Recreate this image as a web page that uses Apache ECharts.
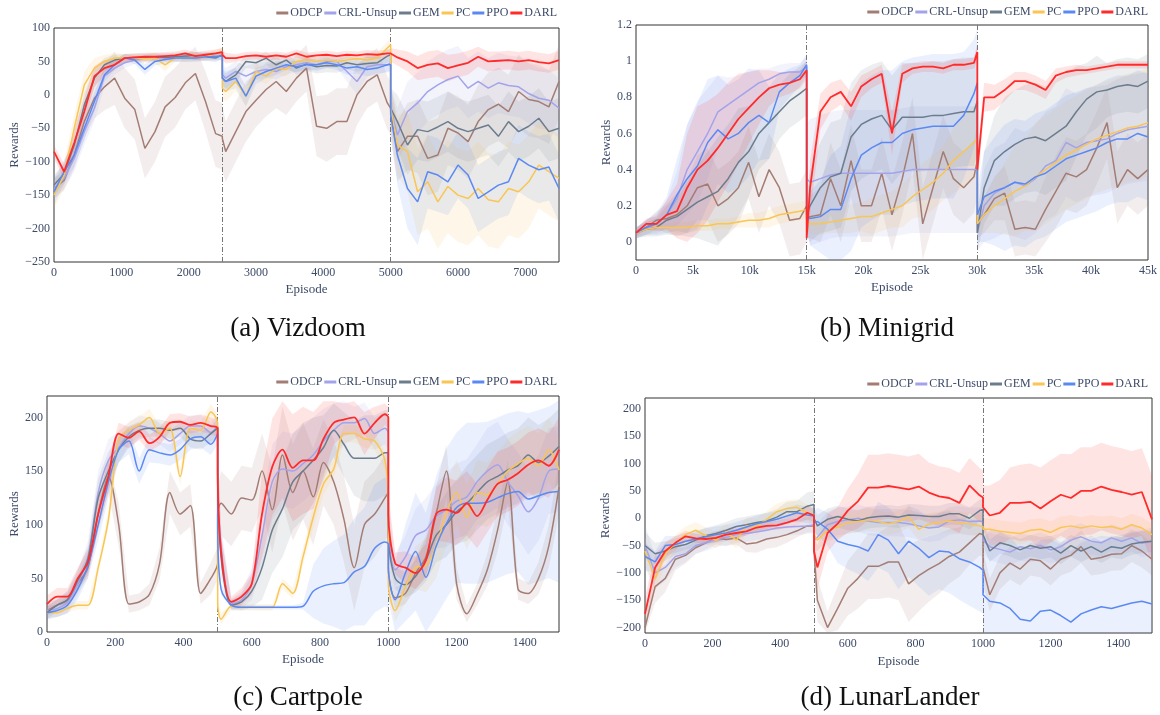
<!DOCTYPE html>
<html>
<head>
<meta charset="utf-8">
<script src="https://cdn.jsdelivr.net/npm/echarts@6.0.0/dist/echarts.min.js"></script>
<style>
  html, body { margin: 0; padding: 0; background: #fff; }
  #main { width: 1160px; height: 715px; }
</style>
</head>
<body>
<div id="main"></div>
<script>
// ---- episodes (task switches appear twice: value before / after the switch) ----
const EP_A = [0,150,300,450,600,750,900,1050,1200,1350,1500,1650,1800,1950,2100,2250,2400,2500,2500,2550,2700,2850,3000,3150,3300,3450,3600,3750,3900,4050,4200,4350,4500,4650,4800,4950,5000,5000,5100,5250,5400,5550,5700,5850,6000,6150,6300,6450,6600,6750,6900,7050,7200,7350,7500];
const EP_B = [0,900,1800,2700,3600,4500,5400,6300,7200,8100,9000,9900,10800,11700,12600,13500,14400,15000,15000,15300,16200,17100,18000,18900,19800,20700,21600,22500,23400,24300,25200,26100,27000,27900,28800,29700,30000,30000,30600,31500,32400,33300,34200,35100,36000,36900,37800,38700,39600,40500,41400,42300,43200,44100,45000];
const EP_C = [0,30,60,90,120,150,180,210,240,270,300,330,360,390,420,450,480,500,500,510,540,570,600,630,660,690,720,750,780,810,840,870,900,930,960,990,1000,1000,1020,1050,1080,1110,1140,1170,1200,1230,1260,1290,1320,1350,1380,1410,1440,1470,1500];
const EP_D = EP_C;

const SWITCH_A = [2500, 5000];
const SWITCH_B = [15000, 30000];
const SWITCH_C = [500, 1000];
const SWITCH_D = [500, 1000];

const METHODS = ['ODCP', 'CRL-Unsup', 'GEM', 'PC', 'PPO', 'DARL'];

// ---- (a) Vizdoom ----
const VIZ_ODCP = [-140,-128,-90,-40,-5,12,25,-5,-22,-80,-55,-18,-4,18,32,-10,-58, -62,-65,-85, -55,-25,-8,8,20,5,25,40,-47,-50,-40,-40,0,20,30,-12, -20,-25,-85, -62,-62,-95,-90,-50,-57,-70,-40,-22,-14,-25,5,-7,-10,-18,20];
const VIZ_ODCP_SD = [15,15,20,25,30,35,40,45,45,45,45,45,45,40,40,45,50, 50,50,45, 45,45,40,40,40,35,35,35,45,50,50,50,45,40,40,40, 40,40,45, 50,55,55,55,55,55,55,55,55,55,55,55,55,55,55,55];
const VIZ_CRL = [-140,-125,-95,-55,-20,28,40,48,52,55,55,56,55,57,57,58,58, 58,30,25, 35,28,35,38,35,42,45,48,45,50,50,35,20,42,45,45, 48,-20,-60, -25,-12,5,15,23,28,10,20,10,18,14,12,2,-5,-8,-20];
const VIZ_CRL_SD = [15,15,20,20,20,15,10,8,6,6,6,6,6,6,6,6,6, 6,15,15, 15,15,12,12,12,12,10,10,10,10,10,15,20,15,12,12, 12,30,40, 45,45,45,45,45,45,45,45,45,45,45,45,45,45,45,45];
const VIZ_GEM = [-135,-118,-75,-15,25,45,52,55,56,56,57,56,57,58,58,57,55, 60,25,20, 30,50,48,55,45,52,40,46,42,44,43,48,45,47,48,58, 60,-20,-40, -75,-52,-55,-48,-40,-50,-55,-50,-45,-62,-40,-55,-47,-35,-55,-50];
const VIZ_GEM_SD = [15,15,18,18,15,10,8,6,6,6,6,6,6,6,6,6,6, 6,12,12, 12,10,10,10,10,10,10,10,10,10,10,10,10,10,10,10, 10,30,40, 45,45,45,45,45,45,45,45,45,45,45,45,45,45,45,45];
const VIZ_PC = [-150,-120,-50,15,40,50,55,55,55,54,55,45,55,55,57,57,62, 65,10,5, 20,-2,35,28,40,38,50,52,50,52,50,52,54,52,55,70, 75,-20,-75, -85,-145,-130,-160,-137,-150,-155,-140,-157,-160,-140,-145,-130,-105,-115,-125];
const VIZ_PC_SD = [20,20,20,20,15,10,8,6,6,6,8,10,6,6,6,6,6, 6,15,15, 15,15,12,12,10,10,8,8,8,8,8,8,8,8,8,10, 10,30,45, 60,65,70,70,70,70,70,70,70,70,70,70,70,65,65,65];
const VIZ_PPO = [-145,-115,-90,-50,-10,30,45,55,52,38,50,53,55,55,55,57,57, 58,25,20, 25,-2,28,35,40,45,42,45,45,48,45,40,42,38,40,45, 45,-30,-90, -140,-160,-115,-120,-130,-105,-120,-155,-145,-135,-130,-95,-105,-112,-108,-140];
const VIZ_PPO_SD = [20,18,18,18,15,10,8,6,6,8,6,6,6,6,6,6,6, 6,15,15, 15,15,12,10,10,8,8,8,8,8,8,10,10,10,10,10, 10,30,45, 60,65,55,55,50,50,50,50,50,50,50,50,50,50,50,50];
const VIZ_DARL = [-85,-115,-72,-25,28,40,45,55,56,57,57,58,59,62,58,60,62, 64,60,55, 55,58,59,57,59,57,62,57,59,60,58,60,59,61,60,62, 62,60,56, 50,40,45,47,40,44,48,57,50,51,52,50,52,49,47,52];
const VIZ_DARL_SD = [10,12,20,20,15,12,8,6,6,6,6,6,6,6,6,6,6, 6,8,8, 6,6,6,6,6,6,6,6,6,6,6,6,6,6,6,6, 6,10,12, 15,18,20,20,20,18,18,15,15,14,14,14,14,14,14,14];

// ---- (b) Minigrid ----
const MG_ODCP = [0.05,0.08,0.12,0.13,0.15,0.2,0.3,0.32,0.2,0.24,0.3,0.44,0.25,0.4,0.3,0.12,0.13, 0.2,0.12, 0.14,0.15,0.35,0.2,0.45,0.2,0.2,0.38,0.15,0.35,0.6,0.1,0.3,0.5,0.35,0.3,0.36, 0.45,0.1, 0.15,0.24,0.27,0.07,0.08,0.07,0.18,0.28,0.38,0.36,0.4,0.52,0.66,0.3,0.4,0.35,0.4];
const MG_ODCP_SD = [0.03,0.04,0.05,0.08,0.12,0.15,0.18,0.2,0.2,0.2,0.2,0.2,0.2,0.2,0.2,0.2,0.2, 0.2,0.1, 0.12,0.15,0.2,0.2,0.2,0.2,0.2,0.2,0.2,0.2,0.2,0.2,0.2,0.2,0.2,0.2,0.2, 0.2,0.08, 0.1,0.12,0.15,0.15,0.15,0.15,0.18,0.2,0.2,0.2,0.2,0.2,0.2,0.2,0.2,0.2,0.2];
const MG_CRL = [0.05,0.08,0.1,0.15,0.24,0.4,0.5,0.6,0.72,0.76,0.8,0.84,0.88,0.9,0.93,0.94,0.94, 0.97,0.35, 0.33,0.35,0.37,0.38,0.38,0.38,0.38,0.38,0.38,0.39,0.4,0.4,0.4,0.4,0.4,0.4,0.4, 0.4,0.05, 0.2,0.27,0.3,0.33,0.31,0.35,0.42,0.45,0.55,0.52,0.55,0.56,0.57,0.6,0.62,0.63,0.64];
const MG_CRL_SD = [0.03,0.04,0.05,0.08,0.15,0.25,0.28,0.25,0.2,0.15,0.12,0.1,0.08,0.06,0.05,0.05,0.05, 0.05,0.3, 0.35,0.35,0.35,0.35,0.35,0.35,0.35,0.35,0.35,0.35,0.35,0.35,0.35,0.35,0.35,0.35,0.35, 0.35,0.1, 0.2,0.25,0.25,0.3,0.3,0.3,0.3,0.3,0.3,0.3,0.3,0.3,0.3,0.3,0.3,0.3,0.3];
const MG_GEM = [0.05,0.07,0.08,0.12,0.14,0.18,0.22,0.25,0.28,0.35,0.44,0.5,0.6,0.66,0.72,0.78,0.82, 0.85,0.15, 0.2,0.3,0.36,0.38,0.58,0.65,0.68,0.7,0.62,0.69,0.69,0.69,0.7,0.7,0.71,0.72,0.72, 0.78,0.05, 0.3,0.45,0.5,0.54,0.57,0.58,0.56,0.6,0.64,0.72,0.79,0.83,0.84,0.86,0.87,0.86,0.89];
const MG_GEM_SD = [0.03,0.04,0.05,0.08,0.1,0.15,0.2,0.25,0.3,0.3,0.3,0.25,0.2,0.2,0.15,0.15,0.15, 0.15,0.1, 0.2,0.25,0.3,0.3,0.3,0.3,0.3,0.3,0.3,0.3,0.3,0.3,0.3,0.3,0.3,0.3,0.3, 0.3,0.1, 0.2,0.25,0.3,0.3,0.3,0.3,0.3,0.3,0.3,0.25,0.2,0.2,0.15,0.15,0.15,0.15,0.15];
const MG_PC = [0.05,0.07,0.08,0.08,0.08,0.08,0.09,0.09,0.1,0.1,0.11,0.12,0.12,0.13,0.15,0.16,0.17, 0.18,0.1, 0.1,0.1,0.11,0.12,0.13,0.14,0.14,0.16,0.18,0.2,0.25,0.29,0.33,0.38,0.45,0.5,0.55, 0.57,0.1, 0.15,0.2,0.24,0.28,0.31,0.36,0.4,0.44,0.48,0.51,0.54,0.57,0.59,0.61,0.63,0.64,0.66];
const MG_PC_SD = [0.02,0.02,0.02,0.02,0.03,0.03,0.03,0.03,0.03,0.03,0.03,0.04,0.04,0.05,0.05,0.05,0.05, 0.05,0.05, 0.05,0.06,0.06,0.07,0.08,0.08,0.1,0.1,0.1,0.12,0.12,0.15,0.15,0.15,0.18,0.2,0.2, 0.2,0.05, 0.1,0.15,0.2,0.25,0.25,0.3,0.3,0.3,0.3,0.3,0.3,0.3,0.3,0.3,0.3,0.3,0.3];
const MG_PPO = [0.05,0.08,0.1,0.15,0.26,0.35,0.42,0.55,0.62,0.57,0.6,0.66,0.7,0.66,0.83,0.88,0.92, 0.98,0.15, 0.13,0.14,0.18,0.18,0.35,0.48,0.52,0.55,0.55,0.6,0.62,0.63,0.64,0.64,0.64,0.7,0.82, 0.88,0.15, 0.25,0.28,0.3,0.33,0.32,0.36,0.38,0.42,0.46,0.48,0.5,0.52,0.55,0.57,0.57,0.6,0.58];
const MG_PPO_SD = [0.03,0.04,0.06,0.1,0.2,0.3,0.35,0.35,0.3,0.3,0.3,0.3,0.25,0.2,0.1,0.08,0.06, 0.06,0.1, 0.15,0.2,0.3,0.35,0.4,0.4,0.4,0.4,0.4,0.4,0.4,0.4,0.4,0.4,0.4,0.35,0.3, 0.3,0.15, 0.25,0.3,0.35,0.35,0.35,0.35,0.35,0.35,0.35,0.35,0.35,0.35,0.35,0.35,0.35,0.35,0.35];
const MG_DARL = [0.05,0.1,0.1,0.15,0.17,0.3,0.4,0.45,0.52,0.6,0.68,0.74,0.8,0.85,0.87,0.88,0.9, 0.95,0.02, 0.3,0.72,0.8,0.83,0.75,0.86,0.9,0.93,0.6,0.93,0.96,0.97,0.97,0.96,0.98,0.98,0.99, 1.05,0.4, 0.8,0.8,0.84,0.89,0.89,0.87,0.84,0.92,0.94,0.95,0.95,0.96,0.97,0.98,0.98,0.98,0.98];
const MG_DARL_SD = [0.02,0.03,0.04,0.08,0.15,0.3,0.35,0.33,0.3,0.28,0.25,0.2,0.15,0.1,0.07,0.06,0.05, 0.05,0.05, 0.15,0.1,0.08,0.07,0.08,0.06,0.05,0.05,0.12,0.05,0.03,0.03,0.03,0.03,0.03,0.03,0.03, 0.05,0.1, 0.08,0.07,0.06,0.05,0.05,0.05,0.05,0.04,0.03,0.03,0.02,0.02,0.02,0.02,0.02,0.02,0.02];

// ---- (c) Cartpole ----
const CP_ODCP = [20,25,30,45,60,110,145,100,26,28,35,64,130,110,118,36,50, 64,110, 120,110,125,123,150,114,165,130,150,126,158,140,105,60,100,110,125, 130,60, 32,36,55,70,110,150,45,17,35,58,95,140,40,36,50,80,135];
const CP_ODCP_SD = [5,5,6,8,10,15,15,20,8,8,10,15,20,20,20,10,15, 15,25, 30,30,30,30,35,40,45,45,45,45,40,40,40,40,40,40,40, 40,15, 10,10,15,20,25,25,15,8,10,15,20,20,10,10,15,20,25];
const CP_CRL = [20,22,28,45,70,130,160,172,185,192,190,185,178,185,192,192,186, 192,150, 80,26,30,45,90,140,152,150,157,165,178,188,195,195,199,185,190, 185,100, 58,70,90,95,108,114,122,126,140,150,156,140,127,112,125,150,152];
const CP_CRL_SD = [8,8,10,12,15,20,20,15,10,10,10,10,10,10,10,10,10, 10,15, 20,5,8,15,30,35,35,35,35,35,30,25,20,15,15,15,15, 15,20, 15,20,25,30,30,35,35,35,35,40,40,40,40,40,40,40,40];
const CP_GEM = [18,25,30,48,68,125,150,170,182,188,190,190,188,190,180,178,185, 190,150, 70,25,28,38,60,95,115,140,150,160,172,188,175,162,162,162,167, 167,90, 50,44,52,67,90,100,112,120,130,140,145,151,155,165,158,164,173];
const CP_GEM_SD = [6,6,8,10,12,18,18,12,10,8,8,8,8,8,8,8,8, 8,15, 20,5,8,15,30,40,45,45,45,40,30,25,30,35,40,40,40, 40,20, 10,12,15,20,25,30,30,35,35,35,35,35,35,35,35,35,35];
const CP_PC = [18,18,22,25,25,60,105,180,188,193,200,185,190,145,190,188,205, 195,26, 12,24,23,23,23,23,45,36,70,107,138,152,185,185,180,178,160, 120,45, 20,42,60,62,80,111,130,107,130,128,138,150,157,162,155,170,151];
const CP_PC_SD = [4,4,4,4,4,6,8,8,8,8,8,8,8,8,8,8,8, 8,8, 5,3,3,3,3,3,5,5,8,10,10,8,8,8,8,8,8, 8,8, 10,15,20,25,30,30,30,30,30,30,30,30,30,30,30,30,30];
const CP_PPO = [18,20,25,40,62,100,140,170,178,150,170,167,165,170,180,182,175, 185,100, 40,25,23,23,23,23,23,23,24,38,43,45,46,56,61,78,84, 82,60, 30,55,75,51,80,101,116,120,120,121,125,129,131,124,127,130,131];
const CP_PPO_SD = [6,6,8,10,12,15,15,12,12,12,12,10,10,10,10,10,10, 10,10, 5,3,2,2,2,2,2,2,3,25,35,40,45,50,55,60,60, 60,30, 35,45,55,60,65,70,70,75,75,75,75,75,75,80,80,80,85];
const CP_DARL = [26,33,33,50,65,110,145,185,181,187,176,182,195,196,193,195,192, 190,160, 75,28,33,45,110,154,170,153,160,160,180,195,198,200,185,195,203, 200,110, 64,60,55,67,110,114,111,120,108,123,138,142,148,156,160,155,170];
const CP_DARL_SD = [8,8,8,10,12,15,15,10,10,8,8,8,8,8,8,8,8, 8,15, 15,5,8,10,40,45,45,50,50,45,35,20,15,15,20,15,10, 10,20, 10,15,15,15,25,30,30,30,30,30,30,30,30,30,30,30,30];

// ---- (d) LunarLander ----
const LL_ODCP = [-200,-125,-110,-75,-68,-54,-45,-36,-39,-36,-47,-45,-38,-35,-30,-23,-14, -14,-60, -150,-200,-165,-128,-110,-88,-88,-80,-80,-120,-105,-93,-83,-70,-62,-45,-28, -30,-90, -140,-100,-82,-93,-75,-78,-93,-75,-68,-52,-75,-72,-66,-65,-50,-60,-75];
const LL_ODCP_SD = [30,30,25,20,15,12,12,12,12,12,15,18,18,18,15,12,12, 12,30, 40,30,40,50,55,60,60,65,70,70,65,60,55,50,45,40,40, 40,30, 30,30,30,30,30,30,30,30,30,30,30,30,30,30,30,30,30];
const LL_CRL = [-50,-100,-90,-70,-65,-50,-45,-38,-35,-30,-28,-25,-22,-18,-16,-15,-14, -12,-40, -35,-12,-6,-3,0,-5,-8,-8,-8,-10,-14,-18,-16,-5,-3,-6,-5, -6,-40, -52,-57,-62,-52,-56,-50,-58,-52,-40,-34,-42,-45,-36,-42,-36,-46,-42];
const LL_CRL_SD = [40,30,25,20,15,15,15,15,15,15,15,15,15,15,15,15,15, 15,20, 25,25,25,25,25,25,25,25,25,25,25,25,25,25,25,25,25, 25,25, 25,25,25,25,25,25,25,25,25,25,25,25,25,25,25,25,25];
const LL_GEM = [-50,-65,-60,-52,-48,-40,-32,-28,-22,-15,-12,-8,-5,2,12,12,22, 25,0, -14,-2,3,-2,-5,1,3,4,2,6,5,3,3,8,8,0,14, 16,-30, -60,-45,-50,-58,-50,-55,-52,-64,-50,-60,-52,-62,-52,-55,-47,-44,-42];
const LL_GEM_SD = [25,20,18,15,15,15,15,15,15,15,15,15,15,15,18,20,25, 25,20, 20,20,20,20,20,20,20,20,20,20,20,20,20,20,20,20,20, 20,20, 20,20,20,20,20,20,20,20,20,20,20,20,20,20,20,20,20];
const LL_PC = [-60,-110,-65,-45,-30,-22,-32,-40,-25,-40,-14,-15,-2,12,18,20,10, 5,-30, -40,-22,-16,-8,-6,-3,-6,-10,-6,2,-20,-11,-8,-5,-8,-10,-14, -15,-20, -20,-24,-26,-28,-22,-20,-26,-17,-14,-18,-14,-17,-15,-20,-12,-18,-30];
const LL_PC_SD = [25,25,20,15,15,15,15,15,15,15,15,15,15,15,15,15,15, 15,20, 20,20,20,20,20,20,20,20,20,20,20,20,20,20,20,20,20, 20,20, 20,20,20,20,20,20,20,20,20,20,20,20,20,20,20,20,20];
const LL_PPO = [-70,-80,-50,-48,-42,-38,-34,-30,-27,-22,-16,-10,-6,-2,4,10,6, 4,-8, -6,-20,-42,-48,-52,-60,-30,-40,-65,-42,-55,-72,-60,-62,-74,-80,-90, -95,-140, -152,-155,-165,-185,-188,-170,-168,-178,-190,-175,-168,-162,-165,-160,-155,-152,-157];
const LL_PPO_SD = [25,20,18,15,15,15,15,15,15,15,15,15,15,15,15,15,15, 15,20, 25,30,40,45,50,55,60,60,65,65,70,70,70,75,75,80,80, 80,100, 130,130,130,130,130,130,130,130,130,130,130,130,130,130,130,130,130];
const LL_DARL = [-175,-90,-60,-45,-33,-37,-38,-36,-30,-27,-24,-17,-14,-13,-8,-2,10, 5,-60, -90,-27,-10,14,31,56,56,59,56,53,58,47,40,37,28,60,42, 38,20, 5,10,28,28,30,18,31,43,37,50,50,58,52,48,43,48,-2];
const LL_DARL_SD = [30,25,15,12,10,8,8,8,8,8,8,8,8,8,10,10,12, 12,30, 40,35,30,40,50,60,60,60,60,60,60,55,55,55,55,50,50, 50,40, 55,60,65,70,70,75,75,75,80,80,80,80,80,80,80,80,80];

// ---- tick labels ----
const XT_A = [0,1000,2000,3000,4000,5000,6000,7000];
const YT_A = [-250,-200,-150,-100,-50,0,50,100];
const XT_B = [0,5000,10000,15000,20000,25000,30000,35000,40000,45000];
const YT_B = [0,0.2,0.4,0.6,0.8,1,1.2];
const XT_C = [0,200,400,600,800,1000,1200,1400];
const YT_C = [0,50,100,150,200];
const XT_D = [0,200,400,600,800,1000,1200,1400];
const YT_D = [-200,-150,-100,-50,0,50,100,150,200];

const CAPTIONS = ['(a) Vizdoom', '(b) Minigrid', '(c) Cartpole', '(d) LunarLander'];

// ---- styling ----
const COLORS = {
  'ODCP': '#a37d74',
  'CRL-Unsup': '#a3a3ea',
  'GEM': '#6b7c8c',
  'PC': '#f9c553',
  'PPO': '#5b89f3',
  'DARL': '#ff2b2b'
};
const TXT = '#3d4a68';
const SERIF = "'Liberation Serif', 'DejaVu Serif', serif";

const panels = [
  { xs: EP_A, means: [VIZ_ODCP, VIZ_CRL, VIZ_GEM, VIZ_PC, VIZ_PPO, VIZ_DARL],
    sds: [VIZ_ODCP_SD, VIZ_CRL_SD, VIZ_GEM_SD, VIZ_PC_SD, VIZ_PPO_SD, VIZ_DARL_SD],
    switches: SWITCH_A, xt: XT_A, yt: YT_A, xmax: 7500, ymin: -250, ymax: 100,
    grid: {left: 54, top: 28, width: 505, height: 234}, yGap: 32, xGap: 21,
    legend: {top: 7, right: 603}, cap: [298, 329], smooth: false, kfmt: false },
  { xs: EP_B, means: [MG_ODCP, MG_CRL, MG_GEM, MG_PC, MG_PPO, MG_DARL],
    sds: [MG_ODCP_SD, MG_CRL_SD, MG_GEM_SD, MG_PC_SD, MG_PPO_SD, MG_DARL_SD],
    switches: SWITCH_B, xt: XT_B, yt: YT_B, xmax: 45000, ymin: -0.1, ymax: 1.2,
    grid: {left: 636, top: 25, width: 513, height: 235}, yGap: 23, xGap: 21,
    legend: {top: 6, right: 12}, cap: [887, 329], smooth: false, kfmt: true },
  { xs: EP_C, means: [CP_ODCP, CP_CRL, CP_GEM, CP_PC, CP_PPO, CP_DARL],
    sds: [CP_ODCP_SD, CP_CRL_SD, CP_GEM_SD, CP_PC_SD, CP_PPO_SD, CP_DARL_SD],
    switches: SWITCH_C, xt: XT_C, yt: YT_C, xmax: 1500, ymin: 0, ymax: 220,
    grid: {left: 47, top: 396, width: 512, height: 236}, yGap: 25, xGap: 21,
    legend: {top: 376, right: 603}, cap: [298, 698], smooth: 0.3, kfmt: false },
  { xs: EP_D, means: [LL_ODCP, LL_CRL, LL_GEM, LL_PC, LL_PPO, LL_DARL],
    sds: [LL_ODCP_SD, LL_CRL_SD, LL_GEM_SD, LL_PC_SD, LL_PPO_SD, LL_DARL_SD],
    switches: SWITCH_D, xt: XT_D, yt: YT_D, xmax: 1500, ymin: -210, ymax: 220,
    grid: {left: 645, top: 398, width: 507, height: 235}, yGap: 31, xGap: 22,
    legend: {top: 378, right: 12}, cap: [890, 698], smooth: false, kfmt: false }
];

// sanity check on lengths
panels.forEach((p, pi) => {
  p.means.forEach((m, k) => {
    if (m.length !== p.xs.length || p.sds[k].length !== p.xs.length)
      throw new Error('length mismatch panel ' + pi + ' series ' + METHODS[k]);
  });
});

function rgba(hex, a) {
  const n = parseInt(hex.slice(1), 16);
  return 'rgba(' + (n >> 16) + ',' + ((n >> 8) & 255) + ',' + (n & 255) + ',' + a + ')';
}
function fmtNum(v) {
  return String(+v.toFixed(2)).replace('-', '\u2212');
}

const grids = [], xAxes = [], yAxes = [], legends = [], series = [], graphics = [];

panels.forEach((p, pi) => {
  grids.push(Object.assign({show: true, borderColor: '#333', borderWidth: 1, backgroundColor: '#fff'}, p.grid));
  const labelStyle = {fontFamily: SERIF, fontSize: 12, color: TXT};
  xAxes.push({
    type: 'value', gridIndex: pi, min: 0, max: p.xmax,
    name: 'Episode', nameLocation: 'middle', nameGap: p.xGap,
    nameTextStyle: {fontFamily: SERIF, fontSize: 13, color: TXT},
    axisLine: {show: false}, axisTick: {show: false}, splitLine: {show: false},
    axisLabel: Object.assign({
      customValues: p.xt, margin: 5,
      formatter: v => p.kfmt ? (v === 0 ? '0' : (v / 1000) + 'k') : fmtNum(v)
    }, labelStyle)
  });
  yAxes.push({
    type: 'value', gridIndex: pi, min: p.ymin, max: p.ymax,
    name: 'Rewards', nameLocation: 'middle', nameGap: p.yGap,
    nameTextStyle: {fontFamily: SERIF, fontSize: 13, color: TXT},
    axisLine: {show: false}, axisTick: {show: false}, splitLine: {show: false},
    axisLabel: Object.assign({customValues: p.yt, margin: 4, formatter: v => fmtNum(v)}, labelStyle)
  });
  legends.push({
    data: METHODS, top: p.legend.top, right: p.legend.right, orient: 'horizontal',
    padding: 0, icon: 'rect', itemWidth: 12, itemHeight: 3, itemGap: 2,
    textStyle: {fontFamily: SERIF, fontSize: 12, color: TXT, padding: [0, 0, 0, -3]},
    selectedMode: false
  });

  const clampY = v => Math.max(p.ymin, Math.min(p.ymax, v));

  // shaded bands first
  METHODS.forEach((name, k) => {
    const mean = p.means[k], sd = p.sds[k];
    series.push({
      name: name + ' band', type: 'custom', xAxisIndex: pi, yAxisIndex: pi,
      clip: true, silent: true, z: 1,
      data: [[p.xs[0], mean[0]]],
      renderItem: (params, api) => {
        const up = [], lo = [];
        p.xs.forEach((x, i) => {
          up.push(api.coord([x, clampY(mean[i] + sd[i])]));
          lo.push(api.coord([x, clampY(mean[i] - sd[i])]));
        });
        return {type: 'polygon', shape: {points: up.concat(lo.reverse())},
                style: {fill: rgba(COLORS[name], 0.13), stroke: null}};
      }
    });
  });

  // mean lines
  METHODS.forEach((name, k) => {
    const s = {
      name: name, type: 'line', xAxisIndex: pi, yAxisIndex: pi,
      data: p.xs.map((x, i) => [x, p.means[k][i]]),
      showSymbol: false, symbol: 'none', smooth: p.smooth, z: 3,
      color: COLORS[name],
      lineStyle: {color: COLORS[name], width: name === 'DARL' ? 1.8 : 1.5},
      itemStyle: {color: COLORS[name]},
      silent: true, animation: false
    };
    if (k === 0) {
      // dash-dot task switch markers
      s.markLine = {
        silent: true, symbol: 'none', label: {show: false}, z: 2,
        lineStyle: {color: '#777', width: 1, type: [5, 2, 1, 2]},
        data: p.switches.map(v => ({xAxis: v}))
      };
    }
    series.push(s);
  });

  graphics.push({
    type: 'text', x: p.cap[0], y: p.cap[1],
    style: {text: CAPTIONS[pi], font: "27px 'Liberation Serif', serif", fill: '#111',
            align: 'center', verticalAlign: 'middle'}
  });
});

const chart = echarts.init(document.getElementById('main'), null, {renderer: 'canvas'});
chart.setOption({
  animation: false,
  backgroundColor: '#fff',
  grid: grids, xAxis: xAxes, yAxis: yAxes, legend: legends,
  series: series, graphic: graphics
});
</script>
</body>
</html>
